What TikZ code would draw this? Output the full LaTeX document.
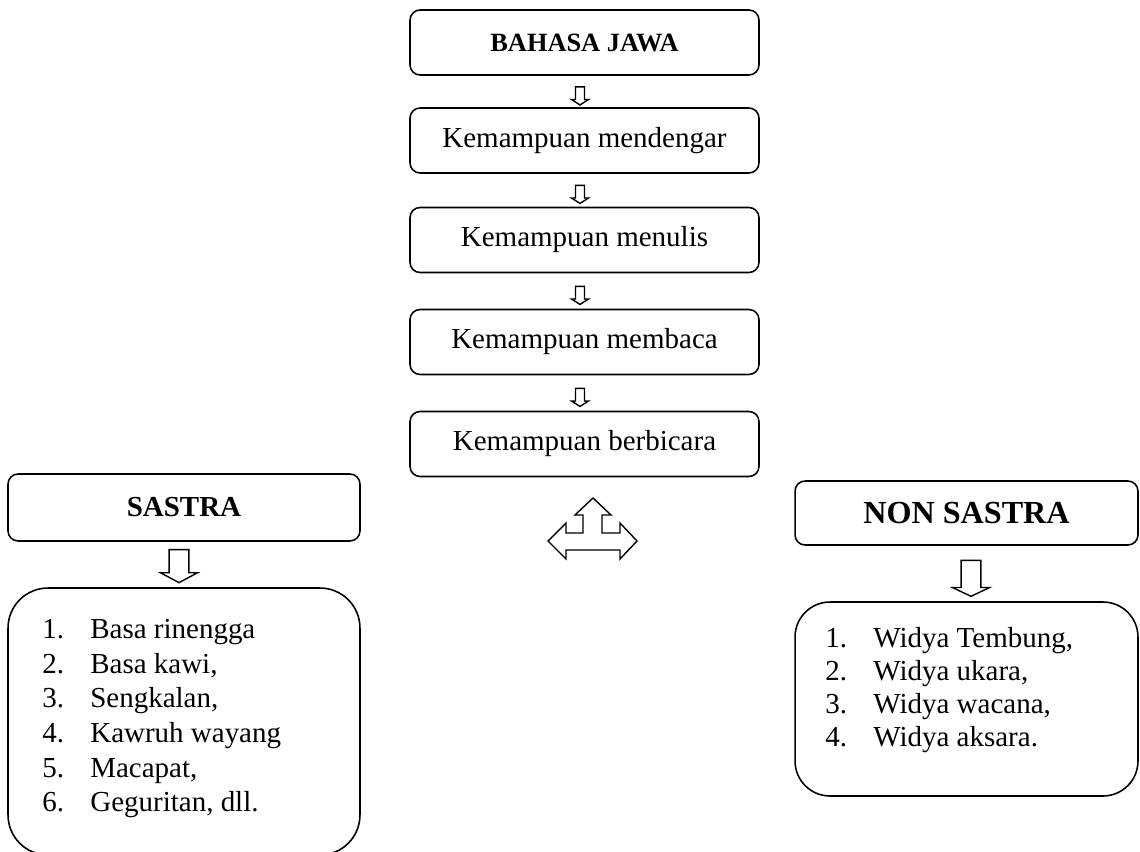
\documentclass[tikz,border=0pt]{standalone}
\usepackage{fontspec}
\setmainfont{Liberation Serif}
\usetikzlibrary{shapes.arrows,calc}

\newcommand{\butir}[2]{\makebox[0.96cm][l]{#1}#2}

\tikzset{
  kotak/.style={draw, line width=0.9pt, rounded corners=0.2cm,
    minimum width=6.98cm, minimum height=1.3cm,
    font=\fontsize{16.5}{19}\selectfont},
  judul/.style={kotak, font=\fontsize{16.5}{19}\selectfont\bfseries},
  daftar/.style={draw, line width=0.9pt, rounded corners=0.8cm},
  isi/.style={align=left, inner sep=0pt, anchor=north west},
  panah/.style={draw, line width=0.8pt, single arrow, shape border rotate=270,
    inner sep=0.075cm, minimum height=0.36cm, minimum width=0.34cm,
    single arrow head extend=0.08cm, single arrow tip angle=115},
  panahbesar/.style={panah, inner sep=0.18cm, minimum width=0.74cm,
    single arrow head extend=0.17cm, single arrow tip angle=124}
}

\begin{document}
\begin{tikzpicture}[x=0.02cm, y=-0.02cm]
    \useasboundingbox (0,0) rectangle (1140,852);

    % Kolom tengah
    \node[judul, font=\fontsize{15}{18}\selectfont\bfseries] (bahasa) at (584.5,42.5) {BAHASA JAWA};
    \node[kotak] (dengar) at (584.5,140.5) {Kemampuan mendengar};
    \node[kotak] (tulis) at (584.5,240) {Kemampuan menulis};
    \node[kotak] (baca) at (584.5,342) {Kemampuan membaca};
    \node[kotak] (bicara) at (584.5,444) {Kemampuan berbicara};

    % Panah kecil
    \node[panah] (p1) at (580,94.5) {};
    \node[panah] (p2) at (580,193) {};
    \node[panah] (p3) at (580,294) {};
    \node[panah] (p4) at (580,396) {};

    % Panah tiga arah
    \draw[line width=0.8pt] (593,498) -- (611,515) -- (602,515) -- (602,533)
      -- (620,533) -- (620,523) -- (637,541) -- (620,559) -- (620,550)
      -- (566,550) -- (566,559) -- (548,541) -- (566,523) -- (566,533)
      -- (583,533) -- (583,515) -- (575,515) -- cycle;

    % Sastra
    \node[judul, minimum width=7.04cm, minimum height=1.34cm] (sastra) at (184,507.5) {SASTRA};
    \node[panahbesar, minimum height=0.66cm] (ps) at (179,563.5) {};
    \node[daftar, minimum width=7.04cm, minimum height=5.34cm] (sastralist) at (184,721.5) {};
    \node[isi, font=\fontsize{16.5}{19.7}\selectfont] (sastraitem) at (42,619) {%
      \butir{1.}{Basa rinengga}\\
      \butir{2.}{Basa kawi,}\\
      \butir{3.}{Sengkalan,}\\
      \butir{4.}{Kawruh wayang}\\
      \butir{5.}{Macapat,}\\
      \butir{6.}{Geguritan, dll.}};

    % Non sastra
    \node[judul, font=\fontsize{18.3}{21}\selectfont\bfseries, minimum width=6.86cm, minimum height=1.28cm] (nonsastra) at (966.5,513) {NON SASTRA};
    \node[panahbesar, minimum height=0.72cm, single arrow tip angle=129] (pn) at (971,576) {};
    \node[daftar, rounded corners=0.7cm, minimum width=6.86cm, minimum height=3.88cm] (nonlist) at (966.5,699) {};
    \node[isi, font=\fontsize{16.5}{18.8}\selectfont] (nonitem) at (825,627) {%
      \butir{1.}{Widya Tembung,}\\
      \butir{2.}{Widya ukara,}\\
      \butir{3.}{Widya wacana,}\\
      \butir{4.}{Widya aksara.}};

\end{tikzpicture}
\end{document}
